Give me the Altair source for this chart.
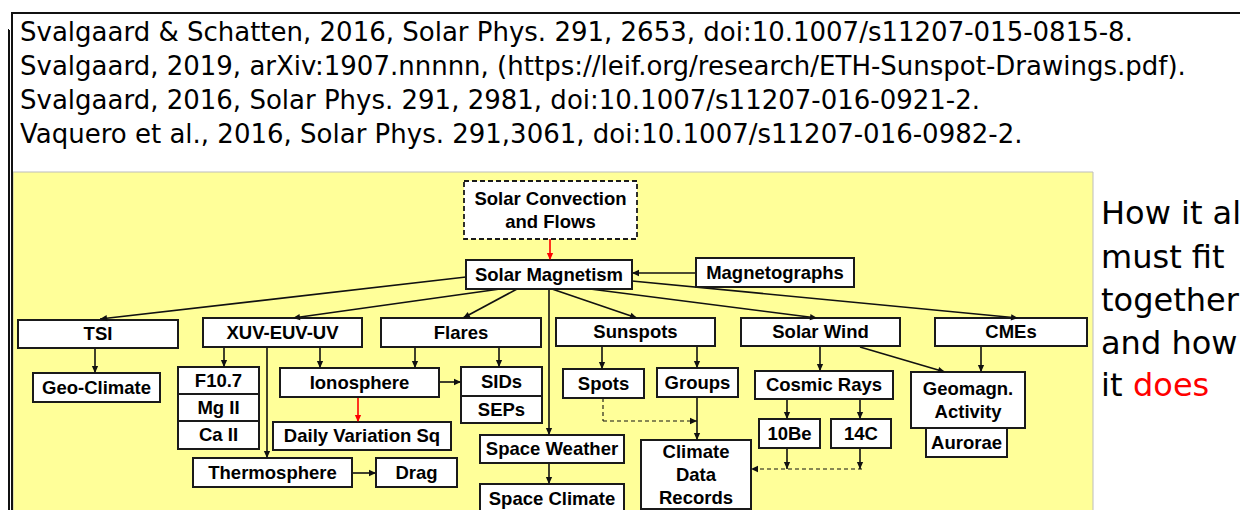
import math
import altair as alt
import pandas as pd

FONT = "Liberation Sans"
WIDE = "DejaVu Sans"

# ---------------- text data ----------------
ref_lines = [
    "Svalgaard & Schatten, 2016, Solar Phys. 291, 2653, doi:10.1007/s11207-015-0815-8.",
    "Svalgaard, 2019, arXiv:1907.nnnnn, (https://leif.org/research/ETH-Sunspot-Drawings.pdf).",
    "Svalgaard, 2016, Solar Phys. 291, 2981, doi:10.1007/s11207-016-0921-2.",
    "Vaquero et al., 2016, Solar Phys. 291,3061, doi:10.1007/s11207-016-0982-2.",
]
ref_y = [33, 67, 101, 135]

side_lines = ["How it all", "must fit", "together", "and how", "it"]
side_y = [214, 258, 301, 344, 386]
side_red = ["does"]
side_red_y = [386]

# ---------------- diagram nodes (picture units) ----------------
box_labels = [
    "Solar Convection\nand Flows", "Solar Magnetism", "Magnetographs",
    "TSI", "XUV-EUV-UV", "Flares", "Sunspots", "Solar Wind", "CMEs",
    "Geo-Climate", "F10.7", "Mg II", "Ca II", "Ionosphere", "SIDs", "SEPs",
    "Daily Variation Sq", "Thermosphere", "Drag", "Space Weather", "Space Climate",
    "Spots", "Groups", "Climate\nData\nRecords", "Cosmic Rays", "10Be", "14C",
    "Geomagn.\nActivity", "Aurorae",
]
box_x0 = [464, 466, 696, 18, 203, 381, 556, 741, 935, 33, 178, 178, 178, 280, 461, 461,
          273, 193, 376, 480, 480, 563, 657, 641, 755, 759, 831, 911, 926]
box_x1 = [637, 632, 854, 178, 362, 541, 715, 900, 1087, 160, 259, 259, 259, 439, 542, 542,
          451, 352, 457, 624, 624, 644, 738, 751, 893, 820, 891, 1025, 1007]
box_y0 = [181, 260, 258, 320, 318, 318, 318, 318, 318, 373, 367, 394, 421, 368, 367, 396,
          422, 458, 458, 435, 484, 369, 368, 440, 371, 419, 419, 372, 428]
box_y1 = [239, 289, 287, 348, 347, 347, 346, 346, 346, 402, 394, 421, 449, 397, 396, 423,
          450, 487, 487, 463, 513, 398, 397, 509, 399, 448, 448, 428, 457]
box_dashed = [True] + [False] * 28

# ---------------- diagram edges ----------------
edge_x0 = [466, 500, 517, 549, 552, 590, 632, 696, 95, 224, 267, 320, 415, 499, 439, 352,
           549, 602, 697, 697, 820, 860, 981, 787, 860, 787, 860, 550, 358, 603, 603, 862]
edge_y0 = [277, 289, 289, 289, 289, 289, 281, 273, 348, 347, 347, 347, 347, 347, 382, 473,
           463, 346, 346, 397, 346, 347, 346, 399, 399, 448, 448, 239, 397, 398, 421, 469]
edge_x1 = [100, 293, 463, 549, 637, 817, 1018, 632, 95, 224, 267, 320, 415, 499, 461, 376,
           549, 602, 697, 697, 820, 945, 981, 787, 860, 787, 860, 550, 358, 603, 697, 751]
edge_y1 = [319, 318, 318, 435, 318, 318, 318, 273, 373, 367, 458, 368, 368, 367, 382, 473,
           484, 369, 368, 440, 371, 372, 372, 419, 419, 469, 469, 260, 422, 421, 421, 469]
edge_kind = ["solid"] * 27 + ["red", "red"] + ["dashed"] * 3
edge_head = [True] * 29 + [False, True, True]

# ---------------- frame pieces ----------------
frame_x0 = [11, 12, 9, 0]
frame_x1 = [1248, 12, 9, 9]
frame_y0 = [13, 13, 30, 30]
frame_y1 = [13, 518, 518, 30]

panel_x0 = [13]
panel_x1 = [1093]
panel_y0 = [172]
panel_y1 = [518]

LINE_H = 23

# ---------------- tables ----------------
boxes = pd.DataFrame({"label": box_labels, "x0": box_x0, "x1": box_x1,
                      "y0": box_y0, "y1": box_y1, "dashed": box_dashed})
boxes["cx"] = (boxes.x0 + boxes.x1) / 2
boxes["nl"] = [s.count("\n") for s in box_labels]
boxes["cy"] = (boxes.y0 + boxes.y1) / 2 - boxes.nl * LINE_H / 2

edges = pd.DataFrame({"x0": edge_x0, "y0": edge_y0, "x1": edge_x1, "y1": edge_y1,
                      "kind": edge_kind, "head": edge_head})
edges["ang"] = [
    (math.degrees(math.atan2(x1 - x0, -(y1 - y0))) + 360) % 360
    for x0, y0, x1, y1 in zip(edge_x0, edge_y0, edge_x1, edge_y1)
]
heads = edges[edges["head"]]

frame = pd.DataFrame({"x0": frame_x0, "x1": frame_x1, "y0": frame_y0, "y1": frame_y1})
panel = pd.DataFrame({"x0": panel_x0, "x1": panel_x1, "y0": panel_y0, "y1": panel_y1})
refs = pd.DataFrame({"text": ref_lines, "x": [20] * len(ref_lines), "y": ref_y})
side = pd.DataFrame({"text": side_lines, "x": [1101] * len(side_lines), "y": side_y})
side_r = pd.DataFrame({"text": side_red, "x": [1133], "y": side_red_y})

xs = alt.Scale(domain=[8, 1240], nice=False, zero=False)
ys = alt.Scale(domain=[8, 510], nice=False, zero=False, reverse=True)


def X(f):
    return alt.X(f, type="quantitative", scale=xs, axis=None)


def Y(f):
    return alt.Y(f, type="quantitative", scale=ys, axis=None)


panel_layer = alt.Chart(panel).mark_rect(fill="#FFFF99", stroke="#BDBDBD", strokeWidth=1).encode(
    x=X("x0"), x2="x1", y=Y("y0"), y2="y1")

frame_layer = alt.Chart(frame).mark_rule(color="#111111", strokeWidth=2).encode(
    x=X("x0"), x2="x1", y=Y("y0"), y2="y1")

solid_lines = alt.Chart(edges[edges.kind == "solid"]).mark_rule(
    color="#111111", strokeWidth=1.6).encode(x=X("x0"), x2="x1", y=Y("y0"), y2="y1")
red_lines = alt.Chart(edges[edges.kind == "red"]).mark_rule(
    color="#FF0000", strokeWidth=1.6).encode(x=X("x0"), x2="x1", y=Y("y0"), y2="y1")
dashed_lines = alt.Chart(edges[edges.kind == "dashed"]).mark_rule(
    color="#111111", strokeWidth=1.1, strokeDash=[4, 3]).encode(
    x=X("x0"), x2="x1", y=Y("y0"), y2="y1")

arrow_shape = "M0,0L-0.45,1L0.45,1Z"
head_layer = alt.Chart(heads).mark_point(
    shape=arrow_shape, filled=True, size=196, opacity=1, strokeWidth=0).encode(
    x=X("x1"), y=Y("y1"),
    angle=alt.Angle("ang:Q", scale=None),
    color=alt.Color("kind:N", scale=alt.Scale(domain=["solid", "red", "dashed"],
                                               range=["#111111", "#FF0000", "#111111"]),
                    legend=None))

solid_boxes = alt.Chart(boxes[~boxes.dashed]).mark_rect(
    fill="white", stroke="#1a1a1a", strokeWidth=2).encode(
    x=X("x0"), x2="x1", y=Y("y0"), y2="y1")
dash_boxes = alt.Chart(boxes[boxes.dashed]).mark_rect(
    fill="white", stroke="#1a1a1a", strokeWidth=1.8, strokeDash=[5, 3]).encode(
    x=X("x0"), x2="x1", y=Y("y0"), y2="y1")

box_text = alt.Chart(boxes).mark_text(
    font=FONT, fontSize=18.5, fontWeight="bold", color="#000000",
    align="center", baseline="middle", lineBreak="\n", lineHeight=LINE_H).encode(
    x=X("cx"), y=Y("cy"), text="label:N")

ref_text = alt.Chart(refs).mark_text(
    font=WIDE, fontSize=26, color="#000000", align="left", baseline="middle").encode(
    x=X("x"), y=Y("y"), text="text:N")

side_text = alt.Chart(side).mark_text(
    font=WIDE, fontSize=32, color="#000000", align="left", baseline="middle").encode(
    x=X("x"), y=Y("y"), text="text:N")
side_red_text = alt.Chart(side_r).mark_text(
    font=WIDE, fontSize=32, color="#FF0000", align="left", baseline="middle").encode(
    x=X("x"), y=Y("y"), text="text:N")

chart = alt.layer(
    panel_layer, frame_layer, solid_lines, red_lines, dashed_lines,
    solid_boxes, dash_boxes, box_text, head_layer, ref_text, side_text, side_red_text,
).properties(
    width=1232, height=502, padding=0, autosize=alt.AutoSizeParams(type="none"),
    background="white",
).configure_view(stroke=None)

chart.save("out.html", embed_options={"renderer": "svg", "actions": False})
